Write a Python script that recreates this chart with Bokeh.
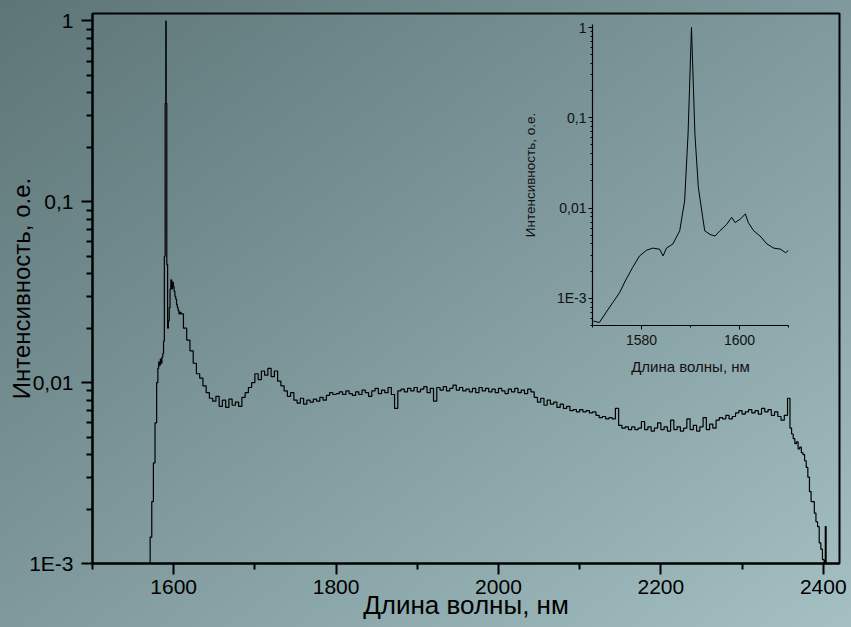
from bokeh.plotting import figure
from bokeh.models import FixedTicker
from bokeh.layouts import column
from bokeh.embed import file_html
from bokeh.resources import INLINE

# ---------------- data ----------------
main_nm = [1570, 1572, 1574, 1576, 1578, 1580, 1581, 1582, 1583, 1584, 1585, 1586, 1587, 1588, 1589,
           1590, 1590.5, 1591, 1592, 1593, 1594, 1595, 1596, 1597, 1598, 1599, 1600, 1601, 1602,
           1603, 1604, 1605, 1606, 1607, 1608,
           1610, 1614, 1618, 1622, 1626, 1630, 1634, 1638, 1642, 1646, 1650, 1654, 1658, 1662,
           1666, 1670, 1674, 1678, 1682, 1686, 1690, 1694, 1698, 1702, 1706, 1710, 1714, 1718,
           1722, 1726, 1730, 1734, 1738, 1742, 1746, 1750, 1754, 1758, 1762, 1766, 1770, 1774,
           1778, 1782, 1786, 1790, 1794, 1798, 1802, 1806, 1810, 1814, 1818, 1822, 1826, 1830,
           1834, 1838, 1842, 1846, 1850, 1854, 1858, 1862, 1866, 1870, 1874, 1878, 1882, 1886,
           1890, 1894, 1898, 1902, 1906, 1910, 1914, 1918, 1922, 1926, 1930, 1934, 1938, 1942,
           1946, 1950, 1954, 1958, 1962, 1966, 1970, 1974, 1978, 1982, 1986, 1990, 1994, 1998,
           2002, 2006, 2010, 2014, 2018, 2022, 2026, 2030, 2034, 2038, 2042, 2046, 2050, 2054,
           2058, 2062, 2066, 2070, 2074, 2078, 2082, 2086, 2090, 2094, 2098, 2102, 2106, 2110,
           2114, 2118, 2122, 2126, 2130, 2134, 2138, 2142, 2146, 2150, 2154, 2158, 2162, 2166,
           2170, 2174, 2178, 2182, 2186, 2190, 2194, 2198, 2202, 2206, 2210, 2214, 2218, 2222,
           2226, 2230, 2234, 2238, 2242, 2246, 2250, 2254, 2258, 2262, 2266, 2270, 2274, 2278,
           2282, 2286, 2290, 2294, 2298, 2302, 2306, 2310, 2314, 2318, 2322, 2326, 2330, 2334,
           2338, 2342, 2346, 2350, 2354, 2358, 2360, 2362, 2364, 2366, 2368, 2370, 2372, 2374,
           2376, 2378, 2380, 2382, 2384, 2386, 2388, 2390, 2392, 2394, 2396, 2398, 2400, 2402,
           2403, 2404, 2405]
main_int = [0.00095, 0.0014, 0.0022, 0.0036, 0.0060, 0.0100, 0.0120, 0.0130, 0.0125, 0.0135, 0.0128,
            0.0138, 0.0145, 0.0170, 0.05,
            0.35, 1.0, 0.35, 0.045, 0.020, 0.022, 0.026, 0.033, 0.037, 0.033, 0.036, 0.034, 0.032,
            0.030, 0.029, 0.027, 0.026, 0.025, 0.024, 0.0245,
            0.0240, 0.0200, 0.0172, 0.0150, 0.0128, 0.0112, 0.0106, 0.0096, 0.0088, 0.0082, 0.0079,
            0.0084, 0.0074, 0.0080, 0.0073, 0.0081, 0.0075, 0.0078, 0.0074, 0.0083, 0.0088, 0.0094,
            0.0100, 0.0112, 0.0104, 0.0116, 0.0110, 0.0120, 0.0108, 0.0116, 0.0102, 0.0096, 0.0090,
            0.0084, 0.0088, 0.0080, 0.0077, 0.0082, 0.0076, 0.0080, 0.0078, 0.0081, 0.0079, 0.0083,
            0.0080, 0.0085, 0.0088, 0.0086, 0.0087, 0.0089, 0.0086, 0.0090, 0.0087, 0.0085, 0.0089,
            0.0086, 0.0091, 0.0088, 0.0084, 0.0090, 0.0093, 0.0087, 0.0091, 0.0088, 0.0094, 0.0086,
            0.0072, 0.0090, 0.0092, 0.0089, 0.0093, 0.0090, 0.0094, 0.0089, 0.0092, 0.0095, 0.0088,
            0.0093, 0.0079, 0.0094, 0.0091, 0.0095, 0.0090, 0.0093, 0.0097, 0.0091, 0.0094, 0.0090,
            0.0092, 0.0089, 0.0093, 0.0088, 0.0094, 0.0090, 0.0093, 0.0089, 0.0092, 0.0088, 0.0093,
            0.0090, 0.0087, 0.0092, 0.0089, 0.0093, 0.0088, 0.0091, 0.0087, 0.0092, 0.0089, 0.0083,
            0.0078, 0.0082, 0.0075, 0.0080, 0.0076, 0.0078, 0.0073, 0.0076, 0.0072, 0.0074, 0.0070,
            0.0071, 0.0069, 0.0071, 0.0069, 0.0070, 0.0068, 0.0069, 0.0066, 0.0064, 0.0065, 0.0063,
            0.0064, 0.0063, 0.0072, 0.0058, 0.0056, 0.0057, 0.0055, 0.0057, 0.0055, 0.0056, 0.0061,
            0.0055, 0.0057, 0.0054, 0.0056, 0.0060, 0.0055, 0.0057, 0.0054, 0.0062, 0.0055, 0.0057,
            0.0054, 0.0056, 0.0063, 0.0055, 0.0058, 0.0054, 0.0057, 0.0064, 0.0055, 0.0059, 0.0056,
            0.0062, 0.0064, 0.0063, 0.0066, 0.0063, 0.0065, 0.0068, 0.0070, 0.0067, 0.0069, 0.0071,
            0.0068, 0.0070, 0.0067, 0.0072, 0.0069, 0.0071, 0.0066, 0.0069, 0.0065, 0.0062, 0.0066,
            0.0082, 0.0056, 0.0052, 0.0049, 0.0046, 0.0047, 0.0043, 0.0044, 0.0041, 0.0040, 0.0037,
            0.0034, 0.0030, 0.0025, 0.0022, 0.0022, 0.0019, 0.0017, 0.0016, 0.0013, 0.0012, 0.00105,
            0.0010, 0.0016, 0.0010, 0.00098]

inset_nm = [1570.2, 1571.4, 1572.7, 1574.1, 1575.5, 1576.8, 1578.2, 1579.6, 1581.0, 1582.3,
            1583.7, 1584.4, 1585.1, 1586.4, 1587.8, 1588.8, 1589.5, 1590.2, 1590.9, 1591.6,
            1592.3, 1592.9, 1594.0, 1595.0, 1596.0, 1597.4, 1598.4, 1599.1, 1600.1, 1601.2,
            1601.8, 1602.9, 1604.2, 1605.6, 1607.0, 1608.4, 1609.4, 1610.0]
inset_int = [0.00056, 0.00054, 0.00069, 0.00089, 0.00115, 0.0016, 0.0022, 0.00295, 0.0034, 0.0036,
             0.0035, 0.00295, 0.0036, 0.0040, 0.0056, 0.012, 0.066, 1.0, 0.066, 0.017,
             0.0093, 0.0056, 0.0051, 0.0049, 0.0056, 0.0066, 0.0079, 0.0069, 0.0075, 0.0086,
             0.0069, 0.0056, 0.0049, 0.0040, 0.0036, 0.0035, 0.0032, 0.0034]

main_x_major = [1600, 1800, 2000, 2200, 2400]
main_x_minor = [1500, 1700, 1900, 2100, 2300]
inset_x_major = [1580, 1600]
inset_x_minor = [1570, 1590, 1610]
y_major = [0.001, 0.01, 0.1, 1]
y_minor = [k * 10.0 ** e for e in (-4, -3, -2, -1) for k in range(2, 10)]
y_labels = {0.001: "1E-3", 0.01: "0,01", 0.1: "0,1", 1: "1"}

FONT = "Liberation Sans"

# ---------------- main figure ----------------
p = figure(width=851, height=627, x_range=(1500, 2420), y_range=(1e-3, 1.1),
           y_axis_type="log", output_backend="svg", toolbar_location=None,
           min_border_left=91, min_border_right=12, min_border_top=13, min_border_bottom=64)
p.title.visible = False
p.background_fill_alpha = 0
p.border_fill_alpha = 0
p.outline_line_color = "black"
p.outline_line_width = 2
p.grid.visible = False

p.step(main_nm, main_int, mode="center", line_color="black", line_width=1.2)

xa = p.xaxis[0]
xa.ticker = FixedTicker(ticks=main_x_major, minor_ticks=main_x_minor)
ya = p.yaxis[0]
ya.ticker = FixedTicker(ticks=y_major, minor_ticks=y_minor)
ya.major_label_overrides = y_labels
for ax in (xa, ya):
    ax.axis_line_width = 2
    ax.axis_line_color = "black"
    ax.major_tick_line_width = 2
    ax.minor_tick_line_width = 2
    ax.major_tick_line_color = "black"
    ax.minor_tick_line_color = "black"
    ax.major_tick_out = 11
    ax.major_tick_in = 0
    ax.minor_tick_out = 6
    ax.minor_tick_in = 0
    ax.major_label_text_font = FONT
    ax.major_label_text_font_size = "21px"
    ax.major_label_text_color = "black"
    ax.axis_label_text_font = FONT
    ax.axis_label_text_font_style = "normal"
    ax.axis_label_text_color = "black"
xa.major_label_standoff = 5
xa.axis_label = "Длина волны, нм"
xa.axis_label_text_font_size = "26px"
xa.axis_label_standoff = -7
ya.major_label_standoff = 8
ya.axis_label = "Интенсивность, о.е."
ya.axis_label_text_font_size = "24px"
ya.axis_label_standoff = -9

# ---------------- inset figure ----------------
q = figure(width=300, height=385, x_range=(1570, 1610), y_range=(5e-4, 1.08),
           y_axis_type="log", output_backend="svg", toolbar_location=None,
           min_border_left=92, min_border_right=12, min_border_top=24, min_border_bottom=60)
q.title.visible = False
q.background_fill_alpha = 0
q.border_fill_alpha = 0
q.outline_line_color = None
q.grid.visible = False
q.line(inset_nm, inset_int, line_color="black", line_width=1)

qx = q.xaxis[0]
qx.ticker = FixedTicker(ticks=inset_x_major, minor_ticks=inset_x_minor)
qy = q.yaxis[0]
qy.ticker = FixedTicker(ticks=y_major, minor_ticks=y_minor)
qy.major_label_overrides = y_labels
for ax in (qx, qy):
    ax.axis_line_width = 1.2
    ax.axis_line_color = "black"
    ax.major_tick_line_width = 1
    ax.minor_tick_line_width = 1
    ax.major_tick_out = 4
    ax.major_tick_in = 0
    ax.minor_tick_out = 2
    ax.minor_tick_in = 0
    ax.major_label_text_font = FONT
    ax.major_label_text_font_size = "14px"
    ax.major_label_text_color = "#111111"
    ax.axis_label_text_font = FONT
    ax.axis_label_text_font_style = "normal"
    ax.axis_label_text_color = "#111111"
qx.major_label_standoff = 5
qx.axis_label = "Длина волны, нм"
qx.axis_label_text_font_size = "15px"
qx.axis_label_standoff = 10
qy.major_label_standoff = 2
qy.axis_label = "Интенсивность, о.е."
qy.axis_label_text_font_size = "13.5px"
qy.axis_label_standoff = 16

q.styles = {"position": "absolute", "left": "500px", "top": "0px"}

root = column(p, q)
root.styles = {"position": "relative", "width": "851px", "height": "627px",
               "background": "linear-gradient(to bottom right, #5d7577 0%, #7f999c 50%, #a4c0c3 100%)"}

open("out.html", "w").write(file_html(root, INLINE))
